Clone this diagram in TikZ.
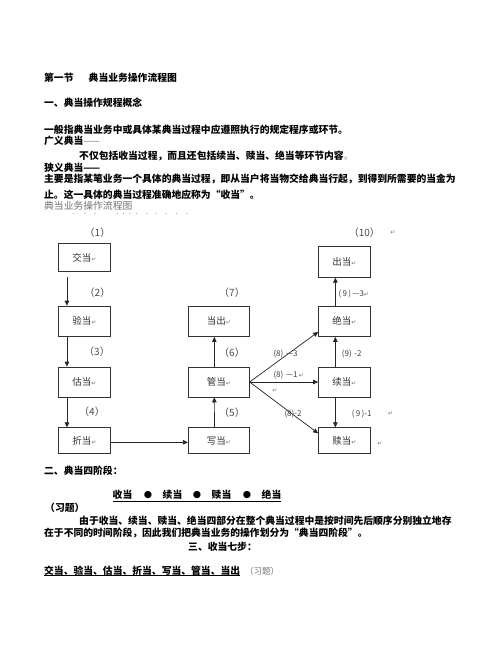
\documentclass[tikz,border=0pt]{standalone}
\usepackage{fontspec}
\newfontfamily\cjk{Noto Sans CJK SC}
\newfontfamily\sym{DejaVu Sans}
\usetikzlibrary{arrows.meta,calc}
\newcommand{\ret}{{\sym\fontsize{6}{6}\selectfont\color{black!55}↵}}
\begin{document}
\begin{tikzpicture}[x=1pt,y=-1pt,
  box/.style={draw=black!80, line width=0.7pt, minimum width=52pt, minimum height=30pt, inner sep=0pt,
    font=\cjk\fontsize{9.5}{10}\selectfont, text=black!80},
  arr/.style={draw=black!85, line width=0.7pt, -{Triangle[length=5pt,width=4.5pt]}},
  lbl/.style={font=\cjk\fontsize{10}{10}\selectfont, text=black!70, inner sep=0pt},
  slbl/.style={font=\cjk\fontsize{8}{8}\selectfont, text=black!75, inner sep=0pt, anchor=west},
  txt/.style={anchor=west, inner sep=0pt, font=\cjk\bfseries\fontsize{9.8}{10}\selectfont},
  gtxt/.style={anchor=west, inner sep=0pt, font=\cjk\fontsize{9.8}{10}\selectfont, text=black!55},
  dot/.style={fill=black!35, draw=none}
]
\fill[white] (0,0) rectangle (502,649);
\useasboundingbox (0,0) rectangle (502,649);

% ---------- top text ----------
\node[txt] (t1a) at (44,78) {第一节};
\node[txt] (t1b) at (88.5,78) {典当业务操作流程图};
\node[txt] (t2) at (44,103) {一、典当操作规程概念};
\node[txt] (t3) at (44,130) {一般指典当业务中或具体某典当过程中应遵照执行的规定程序或环节。};
\node[txt] (t4) at (44,141) {广义典当\textcolor{black!55}{\mdseries ——}};
\node[txt] (t5) at (79,156) {不仅包括收当过程，而且还包括续当、赎当、绝当等环节内容\textcolor{black!45}{\mdseries 。}};
\node[txt] (t6) at (44,168) {狭义典当——};
\node[txt] (t7) at (44,179) {主要是指某笔业务一个具体的典当过程，即从当户将当物交给典当行起，到得到所需要的当金为};
\node[txt] (t8) at (44,195) {止。这一具体的典当过程准确地应称为“收当”。};
\node[gtxt] (t9) at (44,206) {典当业务操作流程图};
\foreach \xx in {73.3,85,95,117.3,123.3,130,136.7,146.7,156,166,176.7,186.7}
  \fill[dot] (\xx,213.5) circle (0.6);

% ---------- boxes ----------
\node[box, minimum width=52.4pt, minimum height=28.4pt] (jiao) at (84.5,257.5) {交当\ret};
\node[box, minimum width=52.4pt, minimum height=30.5pt] (yan) at (84.5,321.3) {验当\ret};
\node[box, minimum width=52.4pt] (gu) at (84.5,382) {估当\ret};
\node[box, minimum width=52.4pt, minimum height=25.6pt] (zhe) at (84.5,440.5) {折当\ret};

\node[box, minimum width=61pt, minimum height=30.5pt] (dangchu) at (218.8,321.3) {当出\ret};
\node[box, minimum width=61pt] (guan) at (218.8,382) {管当\ret};
\node[box, minimum width=61.5pt, minimum height=25.6pt] (xie) at (219,440.5) {写当\ret};

\node[box, minimum width=52pt, minimum height=30.6pt] (chudang) at (344.5,262) {出当\ret};
\node[box, minimum width=52pt, minimum height=30.5pt] (jue) at (344.5,321.3) {绝当\ret};
\node[box, minimum width=52pt] (xu) at (344.5,382) {续当\ret};
\node[box, minimum width=52pt, minimum height=25.6pt] (shu) at (344.5,440.5) {赎当\ret};

% ---------- arrows ----------
\draw[arr] ($(jiao.south west)+(9,5)$) -- ($(yan.north west)+(9,0)$);
\draw[arr] ($(yan.south west)+(9,0)$) -- ($(gu.north west)+(9,0)$);
\draw[arr] ($(gu.south west)+(9,0)$) -- ($(zhe.north west)+(9,0)$);
\draw[arr] ($(zhe.east)+(0,1.8)$) -- ($(xie.west)+(0,1.8)$);
\draw[arr] ($(xie.north)+(-4.5,0)$) -- ($(guan.south)+(-4.5,0)$);
\draw[arr] ($(guan.north)+(-4.5,0)$) -- ($(dangchu.south)+(-4.5,0)$);
\draw[arr] (guan.east) -- ($(jue.south west)+(0,-5)$);
\draw[arr] (guan.east) -- (xu.west);
\draw[arr] (guan.east) -- ($(shu.north west)+(0,6)$);
\draw[arr] ($(xu.north west)+(17.2,0)$) -- ($(jue.south west)+(17.2,0)$);
\draw[arr] ($(xu.south west)+(17.2,0)$) -- ($(shu.north west)+(17.2,0)$);
\draw[arr] ($(jue.north west)+(17.2,0)$) -- ($(chudang.south west)+(17.2,0)$);

% ---------- labels ----------
\node[lbl] (l1) at (97.5,232.5) {（1）};
\node[lbl] (l2) at (97.5,292.5) {（2）};
\node[lbl] (l3) at (97,352) {（3）};
\node[lbl] (l4) at (92,412) {（4）};
\node[lbl] (l7) at (232,292.5) {（7）};
\node[lbl] (l6) at (232,353) {（6）};
\node[lbl] (l5) at (232,412.5) {（5）};
\node[lbl] (l10) at (364.3,232.7) {（10）};
\node[inner sep=0pt] (r10) at (393,233) {\ret};
\node[slbl] (l93) at (338.3,294.3) {(\,9\,)\,—3\ret};
\node[slbl] (l83) at (273.3,354) {(8)\,\,—3};
\node[slbl] (l92) at (341.7,354) {(9)\,\,-2};
\node[slbl] (l81) at (273.3,375) {(8)\,\,—1\,\ret};
\node[inner sep=0pt] (r81) at (275,390.7) {\ret};
\node[slbl] (l82) at (284.3,414) {(8)-2};
\node[slbl] (l91) at (351.7,414) {(\,9\,)-1};
\node[inner sep=0pt] (r91) at (390.7,414) {\ret};
\node[inner sep=0pt] (rshu) at (380,444) {\ret};

% ---------- bottom text ----------
\node[txt] (b1) at (44,471) {二、典当四阶段：};
\node[txt, anchor=center] (s1) at (122.5,495) {收当};
\node[inner sep=0pt, font=\sym\fontsize{9.5}{9.5}\selectfont] (d1) at (148,495) {●};
\node[txt, anchor=center] (s2) at (172.5,495) {续当};
\node[inner sep=0pt, font=\sym\fontsize{9.5}{9.5}\selectfont] (d2) at (197,495) {●};
\node[txt, anchor=center] (s3) at (221.5,495) {赎当};
\node[inner sep=0pt, font=\sym\fontsize{9.5}{9.5}\selectfont] (d3) at (247,495) {●};
\node[txt, anchor=center] (s4) at (271.5,495) {绝当};
\draw[line width=0.9pt] (113,501.5) -- (281,501.5);
\node[txt] (b3) at (45,508) {（习题）};
\node[txt] (b4) at (79,521) {由于收当、续当、赎当、绝当四部分在整个典当过程中是按时间先后顺序分别独立地存};
\node[txt] (b5) at (44,533) {在于不同的时间阶段，因此我们把典当业务的操作划分为“典当四阶段”。};
\node[txt] (b6) at (188,547) {三、收当七步：};
\node[txt] (b7) at (44,571) {交当、验当、估当、折当、写当、管当、当出};
\draw[line width=0.9pt] (b7.south west) ++(0,-0.5) -- ($(b7.south east)+(0,-0.5)$);
\node[gtxt, font=\cjk\fontsize{8.5}{9}\selectfont] (b8) at (245,571) {（习题）};
\end{tikzpicture}
\end{document}
